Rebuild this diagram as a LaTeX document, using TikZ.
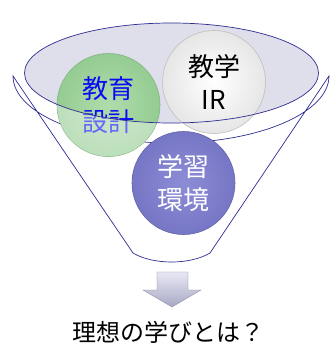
\documentclass[tikz,border=0pt]{standalone}
\usepackage{fontspec}
\newfontfamily\jp{Noto Sans CJK JP}
\definecolor{funnelline}{RGB}{45,45,145}
\definecolor{mouthfill}{RGB}{222,223,235}
\definecolor{greenball}{RGB}{148,204,146}
\definecolor{greenlight}{RGB}{176,220,172}
\definecolor{purpleball}{RGB}{118,118,198}
\definecolor{purplelight}{RGB}{140,140,214}
\definecolor{greyrim}{RGB}{230,230,230}
\definecolor{blueink}{RGB}{10,10,245}
\definecolor{arrowtop}{RGB}{232,232,244}
\definecolor{arrowbot}{RGB}{168,168,196}
\tikzset{
  ball/.style={circle, minimum size=103pt, inner sep=0pt, align=center,
    line width=0.6pt, font=\jp\fontsize{26}{33}\selectfont},
  outline/.style={draw=funnelline, line width=0.7pt},
  caption/.style={font=\jp\fontsize{24}{28}\selectfont, inner sep=0pt}
}
\begin{document}
\begin{tikzpicture}[x=1pt,y=-1pt]
\useasboundingbox (0,0) rectangle (329,345);
\fill[white] (0,0) rectangle (329,345);

% funnel body: top arc, sloping sides and rounded bottom
\coordinate (fl) at (13,76);
\coordinate (fr) at (329,76);
\coordinate (bl) at (133,253);
\coordinate (br) at (210,253);
\draw[outline] (bl) -- (fl) arc[start angle=180, end angle=0, x radius=158, y radius=67]
  -- (br) .. controls (190,265) and (153,265) .. (bl);

% mouth of the funnel
\coordinate (mouth) at (171.5,73);
\fill[mouthfill] (mouth) ellipse (147 and 50);

% education design ball
\node[ball, inner color=greenlight, outer color=greenball, draw=greenball!85!black, text=blueink] (kyoiku) at (108.5,105) {教育\\設計};
\begin{scope}
  \clip (kyoiku.center) circle (51.5);
  \fill[white, opacity=.38, even odd rule] (kyoiku.center) circle (51.5) (mouth) ellipse (147 and 50);
\end{scope}

% institutional research ball
\node[ball, inner color=white, outer color=greyrim, draw=black!25, text=black] (ir) at (214,82) {教学\\IR};

% learning environment ball
\node[ball, inner color=purplelight, outer color=purpleball, draw=purpleball!85!black, text=white] (kankyo) at (183.5,183) {学習\\環境};

% mouth outline over the balls
\draw[outline] (mouth) ellipse (147 and 50);

% down arrow
\shade[top color=arrowtop, bottom color=arrowbot, draw=arrowbot!80!black, line width=0.3pt]
  (157,272) -- (188,272) -- (188,290) -- (201,290) -- (172,307) -- (143,290) -- (157,290) -- cycle;

% question
\node[caption] (question) at (168,332) {理想の学びとは？};
\end{tikzpicture}
\end{document}
